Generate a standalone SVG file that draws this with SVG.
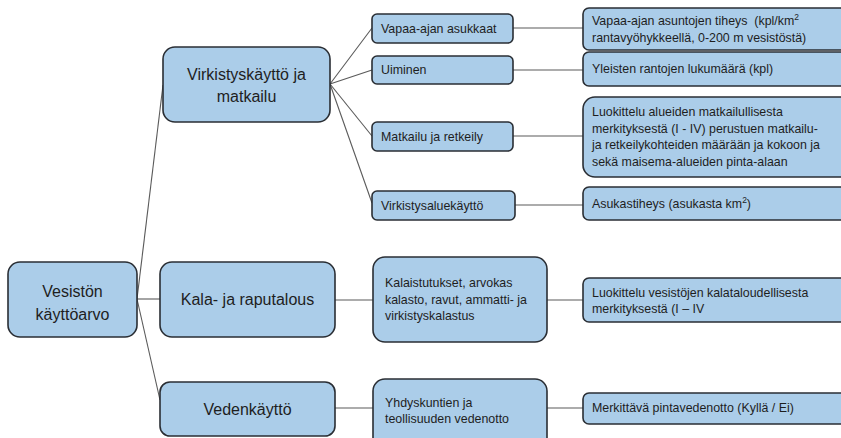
<svg xmlns="http://www.w3.org/2000/svg" width="841" height="438" viewBox="0 0 841 438">
<style>
.box{fill:#abcde9;stroke:#2a2e34;stroke-width:1.6}
.big{font-family:"Liberation Sans",Arial,sans-serif;font-size:16px;fill:#1e1e1e;text-anchor:middle}
.sm{font-family:"Liberation Sans",Arial,sans-serif;font-size:12.4px;fill:#1e1e1e}
.con line{stroke:#5a5a5a;stroke-width:1.1}
</style>
<rect width="841" height="438" fill="#ffffff"/>
<g class="con" id="connectors">
<line x1="137" y1="299" x2="163" y2="85"/>
<line x1="137" y1="299" x2="160" y2="299"/>
<line x1="137" y1="299" x2="160" y2="400"/>
<line x1="330" y1="84" x2="372" y2="28"/>
<line x1="330" y1="84" x2="372" y2="70"/>
<line x1="330" y1="84" x2="372" y2="136"/>
<line x1="330" y1="84" x2="372" y2="203"/>
<line x1="513" y1="28" x2="583" y2="28"/>
<line x1="513" y1="70" x2="583" y2="70"/>
<line x1="513" y1="136" x2="583" y2="136"/>
<line x1="515" y1="205" x2="583" y2="205"/>
<line x1="335" y1="300" x2="373" y2="300"/>
<line x1="547" y1="300" x2="583" y2="300"/>
<line x1="335" y1="408" x2="373" y2="408"/>
<line x1="547" y1="408" x2="583" y2="408"/>
</g>
<g id="root"><rect class="box" x="8" y="262" width="129" height="75" rx="12"/><text class="big" x="72.5" y="297">Vesistön</text><text class="big" x="72.5" y="320">käyttöarvo</text></g>
<g id="virkistys"><rect class="box" x="163" y="47" width="167" height="75" rx="12"/><text class="big" x="246.5" y="80">Virkistyskäyttö ja</text><text class="big" x="246.5" y="102">matkailu</text></g>
<g id="kala"><rect class="box" x="160" y="262" width="175" height="75" rx="12"/><text class="big" x="247.5" y="305">Kala- ja raputalous</text></g>
<g id="veden"><rect class="box" x="160" y="382" width="175" height="54" rx="10"/><text class="big" x="247.5" y="415">Vedenkäyttö</text></g>
<g id="vapaa"><rect class="box" x="372" y="14" width="141" height="29" rx="5"/><text class="sm" x="381" y="33">Vapaa-ajan asukkaat</text></g>
<g id="uiminen"><rect class="box" x="372" y="56" width="141" height="28" rx="5"/><text class="sm" x="381" y="74">Uiminen</text></g>
<g id="matkailu"><rect class="box" x="372" y="122" width="141" height="29" rx="5"/><text class="sm" x="381" y="141">Matkailu ja retkeily</text></g>
<g id="virkistysalue"><rect class="box" x="372" y="191" width="143" height="29" rx="5"/><text class="sm" x="381" y="210">Virkistysaluekäyttö</text></g>
<g id="kalaistutukset"><rect class="box" x="373" y="257" width="174" height="85" rx="12"/><text class="sm" x="385" y="287">Kalaistutukset, arvokas</text><text class="sm" x="385" y="303.5">kalasto, ravut, ammatti- ja</text><text class="sm" x="385" y="320">virkistyskalastus</text></g>
<g id="yhdyskuntien"><rect class="box" x="373" y="379" width="174" height="75" rx="12"/><text class="sm" x="385" y="407">Yhdyskuntien ja</text><text class="sm" x="385" y="423">teollisuuden vedenotto</text></g>
<g id="tiheys"><rect class="box" x="583" y="8" width="270" height="42" rx="6"/><text class="sm" x="592" y="25">Vapaa-ajan asuntojen tiheys &#160;(kpl/km<tspan font-size="8.5px" dy="-5">2</tspan></text><text class="sm" x="592" y="42">rantavyöhykkeellä, 0-200 m vesistöstä)</text></g>
<g id="rannat"><rect class="box" x="583" y="52" width="270" height="34" rx="6"/><text class="sm" x="592" y="73">Yleisten rantojen lukumäärä (kpl)</text></g>
<g id="luokittelu1"><rect class="box" x="583" y="97" width="270" height="80" rx="12"/><text class="sm" x="592" y="116">Luokittelu alueiden matkailullisesta</text><text class="sm" x="592" y="132.5">merkityksestä (I - IV) perustuen matkailu-</text><text class="sm" x="592" y="149">ja retkeilykohteiden määrään ja kokoon ja</text><text class="sm" x="592" y="165.5">sekä maisema-alueiden pinta-alaan</text></g>
<g id="asukastiheys"><rect class="box" x="583" y="187" width="270" height="33" rx="6"/><text class="sm" x="592" y="208">Asukastiheys (asukasta km<tspan font-size="8.5px" dy="-5">2</tspan><tspan dy="5">)</tspan></text></g>
<g id="luokittelu2"><rect class="box" x="583" y="278" width="270" height="44" rx="6"/><text class="sm" x="592" y="297">Luokittelu vesistöjen kalataloudellisesta</text><text class="sm" x="592" y="313">merkityksestä (I – IV</text></g>
<g id="pintavedenotto"><rect class="box" x="583" y="393" width="270" height="31" rx="6"/><text class="sm" x="592" y="412">Merkittävä pintavedenotto (Kyllä / Ei)</text></g>
</svg>
